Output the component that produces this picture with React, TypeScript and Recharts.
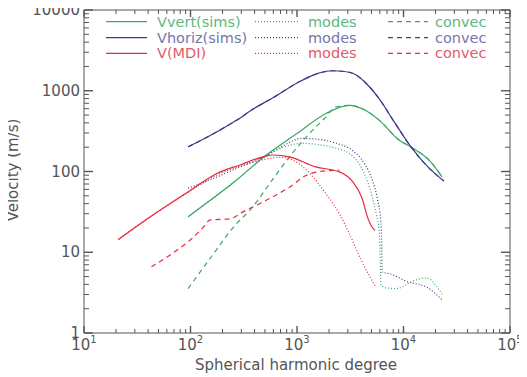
import { Line, LineChart, XAxis, YAxis } from "recharts";

// spherical harmonic degree l vs velocity (m/s)
const vvertSims = [
  [95, 27.5], [150, 43], [250, 72], [515, 160], [1000, 295], [1870, 523],
  [3100, 660], [4200, 590], [5900, 433], [9100, 245], [11800, 200],
  [17400, 138], [23000, 86],
];
const vvertModes = [
  [95, 27.5], [250, 72], [515, 155], [750, 200], [1120, 223], [1600, 215],
  [2300, 195], [3100, 167], [4200, 100], [5100, 48], [5600, 28], [5900, 18.7],
  [6050, 8], [6150, 3.9], [7000, 3.6], [8500, 3.55], [12300, 4.4],
  [15500, 4.8], [17400, 4.7], [20000, 3.9], [23500, 2.9],
];
const vvertConvec = [
  [95, 3.55], [150, 8.1], [270, 22.6], [360, 33], [600, 82], [850, 152],
  [1230, 270], [1800, 450], [2340, 630], [3100, 660], [4200, 590],
  [5900, 433], [9100, 245], [11800, 200], [17400, 138], [23000, 86],
];
const vhorizSims = [
  [95, 202], [150, 275], [250, 405], [300, 470], [335, 523], [600, 826],
  [1120, 1350], [1600, 1650], [2140, 1770], [2800, 1730], [3500, 1600],
  [4500, 1220], [5900, 800], [8100, 420], [11800, 200], [17400, 110],
  [24000, 76],
];
const vhorizModes = [
  [95, 62], [150, 78], [270, 109], [480, 150], [700, 200], [1120, 257],
  [1600, 250], [2300, 225], [3300, 183], [4300, 125], [5100, 78], [5700, 45],
  [6100, 25], [6250, 12], [6300, 5.7], [7500, 5.4], [11000, 4.3],
  [16500, 3.7], [23500, 2.5],
];
const vhorizConvec = vhorizSims;
const mdi = [
  [21, 14.4], [42, 27.5], [95, 56], [175, 94], [300, 122], [480, 152],
  [590, 160], [850, 152], [1500, 114], [2500, 99], [3300, 76], [4100, 46],
  [4600, 27], [5000, 21], [5400, 18.7],
];
const mdiModes = [
  [21, 14.4], [42, 27.5], [95, 55], [175, 90], [300, 118], [480, 140],
  [700, 150], [900, 140], [1230, 104], [1870, 53], [2500, 30], [3200, 15.5],
  [4000, 8], [5500, 3.7],
];
const mdiConvec = [
  [43, 6.6], [70, 10], [98, 14], [141, 22.6], [150, 25], [235, 26],
  [310, 31.6], [515, 44], [850, 64], [1230, 90], [1870, 102], [2500, 104],
];

const xMajor = [10, 100, 1000, 10000, 100000];
const yMajor = [1, 10, 100, 1000, 10000];
const legendNames = ["Vvert(sims)", "Vhoriz(sims)", "V(MDI)"];
const legendModes = ["modes", "modes", "modes"];
const legendConvec = ["convec", "convec", "convec"];

const GREEN = "#3aa865";
const BLUE = "#3c3c8c";
const RED = "#e42a3e";
const textColors = ["#5cb880", "#7676a8", "#e25a6a"];
const axisColor = "#555";
const font = "'DejaVu Sans', sans-serif";

const withMinor = (majors: number[]) => {
  const out: number[] = [];
  majors.forEach((m, i) => {
    out.push(m);
    if (i < majors.length - 1) for (let k = 2; k <= 9; k++) out.push(m * k);
  });
  return out;
};
const xTicks = withMinor(xMajor);
const yTicks = withMinor(yMajor);

const isMajor = (v: number) => Math.abs(Math.log10(v) - Math.round(Math.log10(v))) < 1e-9;
const toRows = (pts: number[][]) => pts.map(([l, v]) => ({ l, v }));

const series = [
  { key: "vs", data: vvertSims, color: GREEN, dash: undefined },
  { key: "vm", data: vvertModes, color: GREEN, dash: "1 2" },
  { key: "vc", data: vvertConvec, color: GREEN, dash: "5 4" },
  { key: "hc", data: vhorizConvec, color: BLUE, dash: "5 4" },
  { key: "hs", data: vhorizSims, color: BLUE, dash: undefined },
  { key: "hm", data: vhorizModes, color: BLUE, dash: "1 2" },
  { key: "mm", data: mdiModes, color: RED, dash: "1 2" },
  { key: "mc", data: mdiConvec, color: RED, dash: "5 4" },
  { key: "ms", data: mdi, color: RED, dash: undefined },
];

// ticks point into the plot; labels only on decades of the bottom/left axes
const XTick = (props: any) => {
  const { x, y, payload, top } = props;
  const v = payload.value;
  const major = isMajor(v);
  const len = major ? 7 : 4;
  return (
    <g>
      <line x1={x} x2={x} y1={y} y2={top ? y + len : y - len} stroke={axisColor} strokeWidth={major ? 1.4 : 1} />
      {!top && major && (
        <text x={x} y={y + 17} textAnchor="middle" fill={axisColor} fontSize={15} fontFamily={font}>
          10<tspan dy={-7} fontSize={10}>{Math.round(Math.log10(v))}</tspan>
        </text>
      )}
    </g>
  );
};

const YTick = (props: any) => {
  const { x, y, payload, right } = props;
  const v = payload.value;
  const major = isMajor(v);
  const len = major ? 9 : 5;
  return (
    <g>
      <line x1={x} x2={right ? x - len : x + len} y1={y} y2={y} stroke={axisColor} strokeWidth={major ? 1.4 : 1} />
      {!right && major && (
        <text x={x - 4} y={y + 5} textAnchor="end" fill={axisColor} fontSize={15} fontFamily={font}>
          {v}
        </text>
      )}
    </g>
  );
};

const logX = { dataKey: "l", type: "number" as const, scale: "log" as const, domain: [10, 100000], allowDataOverflow: true, ticks: xTicks, interval: 0 as const, tickSize: 0, tickMargin: 0, tickLine: false, axisLine: { stroke: axisColor } };
const logY = { type: "number" as const, scale: "log" as const, domain: [1, 10000], allowDataOverflow: true, ticks: yTicks, interval: 0 as const, tickSize: 0, tickMargin: 0, tickLine: false, axisLine: { stroke: axisColor } };

const legendColors = [GREEN, BLUE, RED];
const legendY = [21.7, 37.7, 53.3];

export default function App() {
  return (
    <div style={{ position: "relative", width: 527, height: 377, margin: "-8px 0 0 -8px" }}>
      <LineChart width={527} height={377} margin={{ top: 0, right: 0, bottom: 0, left: 0 }}>
        <XAxis {...logX} height={44} tick={(p: any) => <XTick {...p} />} />
        <XAxis {...logX} xAxisId="t" orientation="top" height={10} tick={(p: any) => <XTick {...p} top />} />
        <YAxis {...logY} width={84} tick={(p: any) => <YTick {...p} />} />
        <YAxis {...logY} yAxisId="r" orientation="right" width={17} tick={(p: any) => <YTick {...p} right />} />
        {/* invisible series so the top/right frame axes get their ticks */}
        <Line xAxisId="t" yAxisId="r" data={toRows(vhorizSims)} dataKey="v" stroke="none" dot={false} isAnimationActive={false} />
        {series.map((s) => (
          <Line
            key={s.key} data={toRows(s.data)} dataKey="v" type="monotone" stroke={s.color}
            strokeWidth={1.2} strokeDasharray={s.dash} dot={false} isAnimationActive={false}
          />
        ))}
      </LineChart>
      <svg width={527} height={377} style={{ position: "absolute", left: 0, top: 0, pointerEvents: "none" }}>
        {legendNames.map((name, i) => (
          <g key={name}>
            <line x1={106} x2={147} y1={legendY[i]} y2={legendY[i]} stroke={legendColors[i]} strokeWidth={1.2} />
            <text x={157} y={legendY[i] + 5} fill={textColors[i]} fontSize={14.5} fontFamily={font}>{name}</text>
            <line x1={255} x2={298} y1={legendY[i]} y2={legendY[i]} stroke={legendColors[i]} strokeWidth={1.2} strokeDasharray="1 2" />
            <text x={308} y={legendY[i] + 5} fill={textColors[i]} fontSize={14.5} fontFamily={font}>{legendModes[i]}</text>
            <line x1={388} x2={428} y1={legendY[i]} y2={legendY[i]} stroke={legendColors[i]} strokeWidth={1.2} strokeDasharray="5 4" />
            <text x={435} y={legendY[i] + 5} fill={textColors[i]} fontSize={14.5} fontFamily={font}>{legendConvec[i]}</text>
          </g>
        ))}
        <text x={296} y={370} textAnchor="middle" fill={axisColor} fontSize={15} fontFamily={font}>
          Spherical harmonic degree
        </text>
        <text x={18} y={170} transform="rotate(-90 18 170)" textAnchor="middle" fill={axisColor} fontSize={15} fontFamily={font}>
          Velocity (m/s)
        </text>
      </svg>
    </div>
  );
}
